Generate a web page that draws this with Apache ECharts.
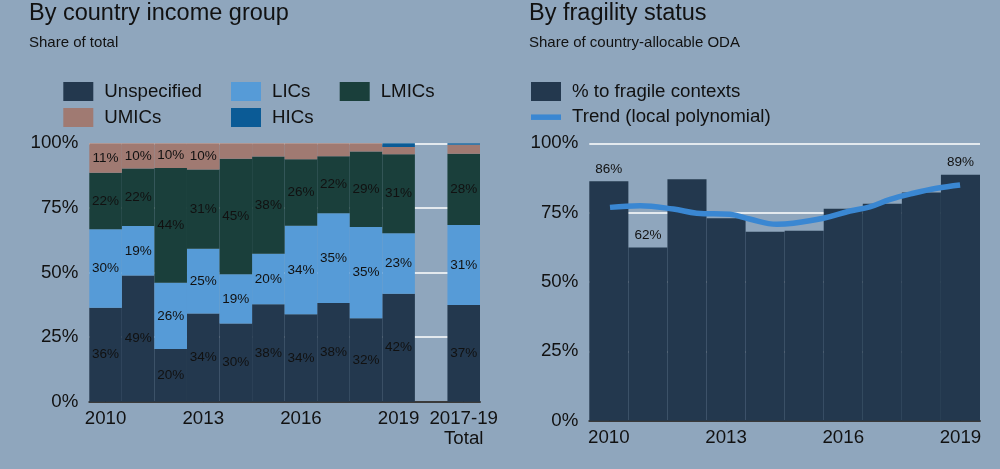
<!DOCTYPE html>
<html><head><meta charset="utf-8">
<script src="https://cdn.jsdelivr.net/npm/echarts@6/dist/echarts.min.js"></script>
<style>html,body{margin:0;padding:0;background:#8FA6BD;} #c{width:1000px;height:469px;}</style>
</head><body><div id="c"></div>
<script>
// ---- Left panel data ----
const incomeCategories = ['2010','2011','2012','2013','2014','2015','2016','2017','2018','2019',' ','2017-19\nTotal'];
const incomeTickLabels = ['2010','2013','2016','2019','2017-19\nTotal'];
const unspecified = [36.4,48.8,20.4,34.1,30.3,37.7,33.8,38.2,32.3,41.8,null,37.4];
const lics        = [30.3,19.2,25.6,25.1,19.0,19.6,34.3,34.7,35.3,23.4,null,31.0];
const lmics       = [21.9,22.2,44.4,30.7,44.7,37.6,25.7,22.1,29.2,30.6,null,27.6];
const umics       = [11.4,9.8,9.6,10.1,6.0,5.1,6.2,5.0,3.2,2.8,null,3.4];
const hics        = [0,0,0,0,0,0,0,0,0,1.4,null,0.6];

// ---- Right panel data ----
const fragileYears = ['2010','2011','2012','2013','2014','2015','2016','2017','2018','2019'];
const fragileTickLabels = ['2010','2013','2016','2019'];
const fragileShare = [86.3,62.4,87.0,73.0,68.1,68.5,76.4,78.2,82.3,88.7];
const fragileLabelledYears = ['2010','2011','2019'];
const trendX = [2010.03,2010.8,2011.65,2012.25,2013.1,2013.6,2014.3,2014.72,2015.49,2016.17,2016.68,2017.2,2017.79,2018.39,2018.99];
const trendY = [76.9,77.5,76.3,74.8,74.4,72.7,70.8,71.2,73.0,75.6,77.1,79.8,82.0,83.8,85.0];

const FONT = 'Liberation Sans, Arial, Helvetica, sans-serif';
const TXT = '#111111';
const C = {unspec:'#23384E', lics:'#569BD7', lmics:'#1A3F3B', umics:'#A07A72', hics:'#0B5B96', line:'#3A87D2', bg:'#8FA6BD'};

const chart = echarts.init(document.getElementById('c'));

function legendAt(data, left, top){
  return {show:true, data:data, left:left, top:top, padding:0, itemWidth:30, itemHeight:19,
    itemGap:6.7, selectedMode:false, icon:'rect', symbolKeepAspect:true,
    textStyle:{fontFamily:FONT, fontSize:18.7, color:TXT, padding:[0,0,0,6]}};
}
const barLabel = {show:true, position:'inside', color:TXT, fontFamily:FONT, fontSize:13.5,
  formatter:p => (p.value != null && p.value >= 9.5) ? Math.round(p.value) + '%' : ''};

function incSeries(name, data, color){
  return {name:name, type:'bar', stack:'inc', xAxisIndex:0, yAxisIndex:0, data:data,
    barCategoryGap:'0%', itemStyle:{color:color}, label:barLabel, emphasis:{disabled:true}};
}

const yAxisCommon = {type:'value', min:0, max:100, interval:25,
  axisLine:{show:false}, axisTick:{show:false},
  axisLabel:{formatter:'{value}%', fontFamily:FONT, fontSize:18.7, color:TXT, margin:11},
  splitLine:{show:true, lineStyle:{color:'#ffffff', width:1.5}}};

const titleStyle = {fontFamily:FONT, fontSize:23.5, fontWeight:'normal', color:TXT};
const subStyle = {fontFamily:FONT, fontSize:15, fontWeight:'normal', color:TXT};

const option = {
  backgroundColor: C.bg,
  animation:false,
  textStyle:{fontFamily:FONT},
  title:[
    {text:'By country income group', left:29, top:1.5, padding:0, textStyle:titleStyle},
    {text:'Share of total', left:29, top:35, padding:0, textStyle:subStyle},
    {text:'By fragility status', left:529, top:1.5, padding:0, textStyle:titleStyle},
    {text:'Share of country-allocable ODA', left:529, top:35, padding:0, textStyle:subStyle}
  ],
  legend:[
    legendAt(['Unspecified'], 63.3, 82),
    legendAt(['LICs'], 231, 82),
    legendAt(['LMICs'], 339.7, 82),
    legendAt(['UMICs'], 63.3, 108),
    legendAt(['HICs'], 231, 108),
    Object.assign(legendAt(['% to fragile contexts',
        {name:'Trend (local polynomial)', icon:'path://M0,0h60v11H0z', itemStyle:{color:C.line}}], 531, 82),
      {orient:'vertical'})
  ],
  grid:[
    {left:89.3, top:143.3, width:390.7, height:258.4},
    {left:589.3, top:143.3, width:390.7, height:277.4}
  ],
  xAxis:[
    {type:'category', gridIndex:0, data:incomeCategories, offset:2.5,
      axisLine:{show:true, lineStyle:{color:'#3a3a3a', width:2}},
      axisTick:{show:true, inside:true, length:6, alignWithLabel:true,
        interval:(i, v) => incomeTickLabels.includes(v), lineStyle:{color:'#222', width:1.2}},
      axisLabel:{interval:(i, v) => incomeTickLabels.includes(v), margin:5, fontFamily:FONT, fontSize:18.7, lineHeight:19.5, color:TXT},
      splitLine:{show:false}},
    {type:'category', gridIndex:1, data:fragileYears, offset:2.5,
      axisLine:{show:true, lineStyle:{color:'#3a3a3a', width:2}},
      axisTick:{show:true, inside:true, length:6, alignWithLabel:true,
        interval:(i, v) => fragileTickLabels.includes(v), lineStyle:{color:'#222', width:1.2}},
      axisLabel:{interval:(i, v) => fragileTickLabels.includes(v), margin:5, fontFamily:FONT, fontSize:18.7, color:TXT},
      splitLine:{show:false}},
    {type:'value', gridIndex:1, min:2009.5, max:2019.5, show:false}
  ],
  yAxis:[
    Object.assign({gridIndex:0}, yAxisCommon),
    Object.assign({gridIndex:1}, yAxisCommon)
  ],
  series:[
    incSeries('Unspecified', unspecified, C.unspec),
    incSeries('LICs', lics, C.lics),
    incSeries('LMICs', lmics, C.lmics),
    incSeries('UMICs', umics, C.umics),
    incSeries('HICs', hics, C.hics),
    {name:'% to fragile contexts', type:'bar', xAxisIndex:1, yAxisIndex:1, data:fragileShare,
      barCategoryGap:'0%', itemStyle:{color:C.unspec}, emphasis:{disabled:true},
      label:{show:true, position:'top', distance:5, color:TXT, fontFamily:FONT, fontSize:13.5,
        formatter:p => fragileLabelledYears.includes(p.name) ? Math.round(p.value) + '%' : ''}},
    {name:'Trend (local polynomial)', type:'line', xAxisIndex:2, yAxisIndex:1,
      data:trendX.map((x, i) => [x, trendY[i]]), smooth:0.4, symbol:'none', showSymbol:false,
      lineStyle:{color:C.line, width:5.5}, itemStyle:{color:C.line}, emphasis:{disabled:true}, z:5}
  ]
};
chart.setOption(option);
</script>
</body></html>
